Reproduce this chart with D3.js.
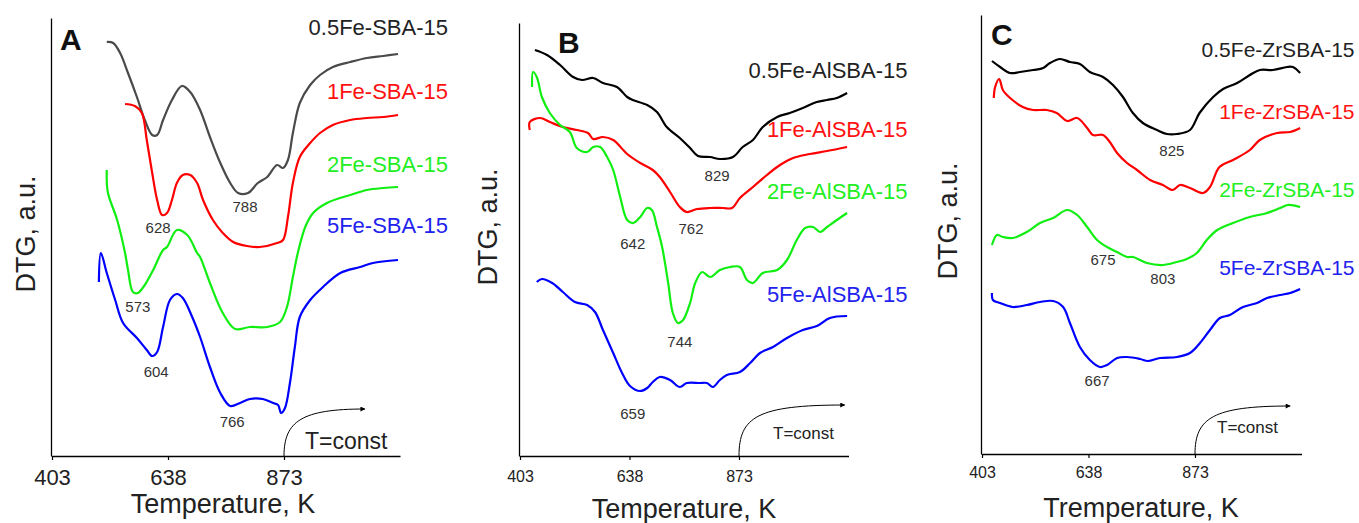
<!DOCTYPE html>
<html>
<head>
<meta charset="utf-8">
<script src="https://cdn.jsdelivr.net/npm/d3@7"></script>
<style>
  body { margin: 0; background: #fff; }
  text { font-family: "Liberation Sans", Arial, sans-serif; }
</style>
</head>
<body>
<div class="canva"></div>
<script>
// tick labels shared by all three panels
const tickLabels = [403, 638, 873];
const tMax = 1108;

// ---- panel A : Fe-SBA-15 ----
const tA05 = [514,527,541,557,575,591,606,616,628,646,666,683,703,723,744,764,780,800,820,839,859,871,881,891,905,926,946,972,1007,1041,1074,1104];
const vA05 = [414,413,403,383,359,336,321,321,336,356,370,364,346,319,293,273,263,263,273,279,291,288,296,323,353,371,381,389,394,398,400,402];
const tA1 = [551,571,585,595,606,616,626,636,646,656,668,683,697,709,729,749,770,798,824,859,871,881,891,905,926,946,972,1007,1041,1074,1104];
const vA1 = [352,350,343,316,283,256,241,243,256,273,281,281,273,256,236,223,214,210,209,213,216,239,273,299,313,323,331,336,338,339,341];
const tA2 = [514,516,535,551,557,567,577,591,608,628,636,656,677,697,703,723,749,774,804,839,865,879,891,901,916,932,960,1007,1041,1074,1104];
const vA2 = [286,264,236,203,186,164,163,171,186,206,209,226,221,203,199,173,143,127,129,129,134,149,179,203,229,243,253,261,266,268,269];
const tA5 = [498,502,514,531,547,575,595,606,616,628,642,656,668,687,703,723,744,764,784,804,830,851,861,867,875,885,895,905,926,952,987,1027,1053,1104];
const vA5 = [174,203,183,156,133,118,106,100,104,129,156,162,158,139,119,89,63,50,53,57,57,53,51,43,48,73,109,139,156,169,183,189,193,196];
const namesA = ["0.5Fe-SBA-15", "1Fe-SBA-15", "2Fe-SBA-15", "5Fe-SBA-15"];
const legendVA = [421, 357, 284, 223];
const peaksA = [["788", 794, 249], ["628", 618, 228], ["573", 577, 149], ["604", 614, 84], ["766", 768, 34]];

// ---- panel B : Fe-AlSBA-15 ----
const tB05 = [435,461,489,517,536,560,581,611,633,645,676,697,718,746,768,785,811,832,860,881,903,924,955,982,1010,1040,1062,1083,1105];
const vB05 = [406,401,391,379,376,378,373,369,359,356,351,344,329,318,308,300,299,297,299,309,316,329,339,343,348,354,356,358,363];
const tB1 = [424,424,446,467,495,525,549,560,581,603,633,661,688,703,725,746,761,783,811,839,858,875,903,933,961,989,1025,1062,1105];
const vB1 = [326,334,338,334,329,326,323,317,319,316,302,293,286,279,264,249,244,247,248,248,248,258,269,281,291,298,302,305,309];
const tB2 = [429,431,439,450,467,489,510,525,547,560,575,590,603,618,633,646,661,676,686,697,708,721,731,742,753,768,779,794,811,832,854,875,890,903,924,955,976,997,1015,1032,1047,1062,1083,1105];
const vB2 = [369,384,379,359,343,331,324,308,304,309,309,299,286,259,236,233,239,248,246,229,209,173,143,133,136,153,173,184,179,186,189,189,176,173,183,186,196,216,228,229,224,229,236,243];
const tB5 = [439,450,472,495,521,547,564,581,603,622,639,661,676,688,703,725,746,761,789,804,817,832,847,875,897,918,946,976,1010,1040,1068,1105];
const vB5 = [174,177,173,164,154,151,144,126,103,83,70,65,68,74,79,76,69,73,73,73,69,76,81,84,93,103,109,118,126,130,138,140];
const namesB = ["0.5Fe-AlSBA-15", "1Fe-AlSBA-15", "2Fe-AlSBA-15", "5Fe-AlSBA-15"];
const legendVB = [378, 319, 257, 154];
const peaksB = [["829", 826, 280], ["762", 770, 227], ["642", 645, 212], ["744", 746, 114], ["659", 645, 42]];

// ---- panel C : Fe-ZrSBA-15 ----
const tC05 = [425,443,465,487,516,538,553,575,597,619,641,670,692,714,736,758,789,811,833,862,883,913,935,966,994,1016,1045,1076,1089,1105];
const vC05 = [393,387,381,382,384,386,391,395,392,390,382,377,369,357,341,331,324,320,320,324,341,357,365,371,379,384,384,387,387,381];
const tC1 = [429,432,441,449,465,493,516,546,568,591,613,635,648,670,685,701,723,745,774,802,824,840,862,891,906,927,957,994,1016,1054,1083,1105];
const vC1 = [356,367,375,364,356,347,344,344,341,333,336,326,319,319,312,301,291,284,274,269,264,269,266,261,267,287,294,304,314,321,322,326];
const tC2 = [425,436,449,471,502,531,560,591,613,635,657,679,701,723,736,767,802,833,855,877,899,922,957,994,1032,1061,1078,1105];
const vC2 = [209,219,217,216,222,231,236,244,239,227,214,207,202,197,197,191,189,192,195,201,214,224,231,237,241,246,249,247];
const tC5 = [425,427,443,471,502,531,560,582,597,619,641,663,679,701,723,752,769,796,833,862,884,906,928,950,979,1010,1032,1061,1083,1105];
const vC5 = [161,154,151,147,149,152,153,147,131,107,94,87,89,96,97,95,93,96,97,101,111,124,136,139,147,151,156,159,161,165];
const namesC = ["0.5Fe-ZrSBA-15", "1Fe-ZrSBA-15", "2Fe-ZrSBA-15", "5Fe-ZrSBA-15"];
const legendVC = [397, 335, 257, 179];
const peaksC = [["825", 822, 303], ["675", 670, 194], ["803", 802, 175], ["667", 657, 73]];

const colors = ["#444", "#ff0000", "#11ee11", "#0000ff"];
const textColors = ["#222", "#ff1111", "#22ee22", "#2222ee"];

// panel layout (pixels)
const panels = [
  { letter: "A", x0: 52, step: 116, bottom: 456, top: 18, xTitle: "Temperature, K",
    titleX: 223, titleY: 513, dtgX: 35, dtgY: 234, letterX: 60, letterY: 50,
    tickFont: 22, tickY: 29, legFont: 22, legDx: 48, peakFont: 15,
    tconstFont: 23, tconstX: 305, tconstY: 449, arrowEnd: [1037, 47], curve0: "#4a4a4a",
    t: [tA05, tA1, tA2, tA5], v: [vA05, vA1, vA2, vA5], names: namesA, legV: legendVA, peaks: peaksA },
  { letter: "B", x0: 520, step: 109.5, bottom: 456, top: 23, xTitle: "Temperature, K",
    titleX: 684, titleY: 518, dtgX: 497, dtgY: 227, letterX: 558, letterY: 53,
    tickFont: 16, tickY: 26, legFont: 22, legDx: 59, peakFont: 15,
    tconstFont: 17, tconstX: 773, tconstY: 439, arrowEnd: [1100, 51], curve0: "#000",
    t: [tB05, tB1, tB2, tB5], v: [vB05, vB1, vB2, vB5], names: namesB, legV: legendVB, peaks: peaksB },
  { letter: "C", x0: 982, step: 106.5, bottom: 454, top: 15, xTitle: "Tremperature, K",
    titleX: 1141, titleY: 517, dtgX: 957, dtgY: 221, letterX: 991, letterY: 45,
    tickFont: 16, tickY: 24, legFont: 21, legDx: 53, peakFont: 15,
    tconstFont: 17, tconstX: 1217, tconstY: 433, arrowEnd: [1083, 48], curve0: "#000",
    t: [tC05, tC1, tC2, tC5], v: [vC05, vC1, vC2, vC5], names: namesC, legV: legendVC, peaks: peaksC }
];

const svg = d3.select('.canva').append('svg')
  .attr('width', 1359)
  .attr('height', 523);

svg.append('defs').append('marker')
  .attr('id', 'arr')
  .attr('viewBox', '0 0 10 10')
  .attr('refX', 9).attr('refY', 5)
  .attr('markerWidth', 7).attr('markerHeight', 5)
  .attr('orient', 'auto')
  .append('path')
  .attr('d', 'M0,0 L10,5 L0,10 Z')
  .attr('fill', '#000');

panels.forEach(p => {
  const x = d3.scaleLinear().domain([403, tMax]).range([p.x0, p.x0 + 3 * p.step]);
  const y = d3.scaleLinear().domain([0, p.bottom - p.top]).range([p.bottom, p.top]);
  const g = svg.append('g');

  // x axis
  const xa = g.append('g')
    .attr('transform', `translate(0,${p.bottom})`)
    .call(d3.axisBottom(x).tickValues(tickLabels).tickSize(4).tickSizeOuter(0).tickFormat(d3.format('d')));
  xa.select('.domain').attr('stroke', '#000').attr('stroke-width', 1.3);
  xa.selectAll('.tick line').attr('stroke', '#000').attr('stroke-width', 1.2);
  xa.selectAll('.tick text')
    .attr('y', p.tickY).attr('dy', 0)
    .attr('font-size', p.tickFont)
    .attr('font-family', '"Liberation Sans", Arial, sans-serif')
    .attr('fill', '#222');

  // y axis: plain line
  const ya = g.append('g')
    .attr('transform', `translate(${p.x0 - 1},0)`)
    .call(d3.axisLeft(y).tickValues([]).tickSizeOuter(0));
  ya.select('.domain').attr('stroke', '#000').attr('stroke-width', 1.3);

  // curves
  const line = d3.line().x(d => x(d[0])).y(d => y(d[1])).curve(d3.curveCatmullRom.alpha(0.5));
  p.t.forEach((ts, i) => {
    const pts = ts.map((t, k) => [t, p.v[i][k]]);
    g.append('path')
      .attr('d', line(pts))
      .attr('fill', 'none')
      .attr('stroke', i === 0 ? p.curve0 : colors[i])
      .attr('stroke-width', 2.2)
      .attr('stroke-linejoin', 'round');
  });

  // series names
  p.names.forEach((n, i) => {
    g.append('text')
      .text(n)
      .attr('x', x(tMax) + p.legDx)
      .attr('y', y(p.legV[i]))
      .attr('text-anchor', 'end')
      .attr('font-size', p.legFont)
      .attr('fill', textColors[i]);
  });

  // peak labels
  p.peaks.forEach(pk => {
    g.append('text')
      .text(pk[0])
      .attr('x', x(pk[1]))
      .attr('y', y(pk[2]))
      .attr('dy', '0.35em')
      .attr('text-anchor', 'middle')
      .attr('font-size', p.peakFont)
      .attr('fill', '#333');
  });

  // T=const arrow
  const sx = x(873), sy = p.bottom;
  const ex = x(p.arrowEnd[0]), ey = y(p.arrowEnd[1]);
  g.append('path')
    .attr('d', `M${sx},${sy} C${sx},${ey + 12} ${sx + 18},${ey} ${ex},${ey}`)
    .attr('fill', 'none')
    .attr('stroke', '#000')
    .attr('stroke-width', 1)
    .attr('marker-end', 'url(#arr)');
  g.append('text')
    .text('T=const')
    .attr('x', p.tconstX)
    .attr('y', p.tconstY)
    .attr('font-size', p.tconstFont)
    .attr('fill', '#222');

  // titles
  g.append('text')
    .text(p.xTitle)
    .attr('x', p.titleX)
    .attr('y', p.titleY)
    .attr('text-anchor', 'middle')
    .attr('font-size', 27)
    .attr('fill', '#222');
  g.append('text')
    .text('DTG, a.u.')
    .attr('transform', `translate(${p.dtgX},${p.dtgY}) rotate(-90)`)
    .attr('text-anchor', 'middle')
    .attr('font-size', 27)
    .attr('fill', '#222');
  g.append('text')
    .text(p.letter)
    .attr('x', p.letterX)
    .attr('y', p.letterY)
    .attr('font-size', 30)
    .attr('font-weight', 'bold')
    .attr('fill', '#111');
});
</script>
</body>
</html>
